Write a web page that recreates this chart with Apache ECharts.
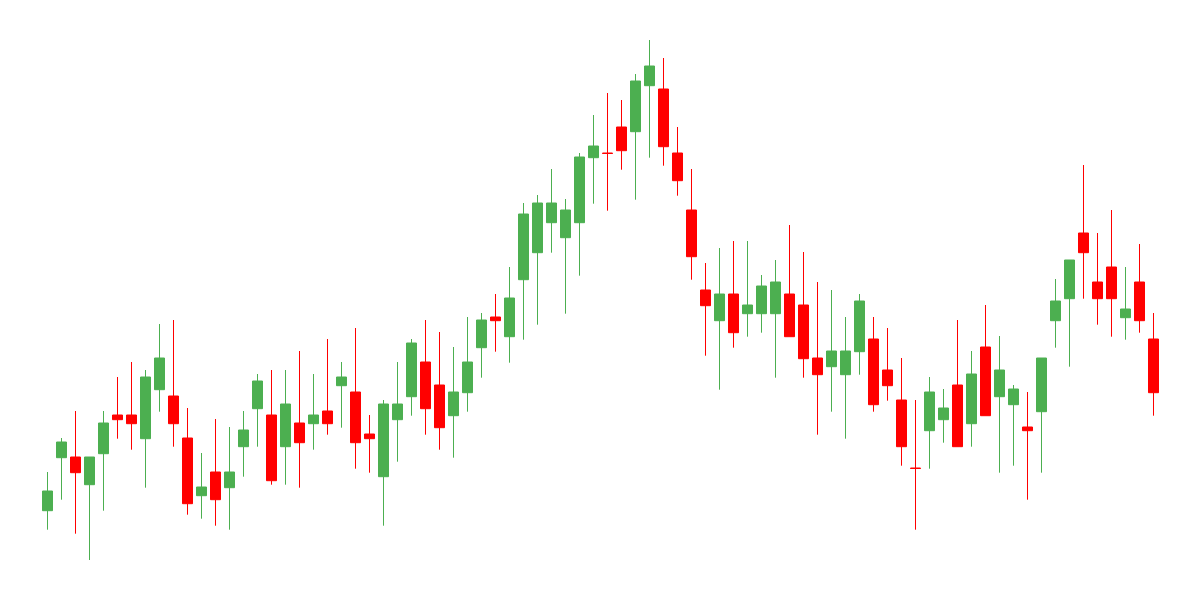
<!DOCTYPE html>
<html>
<head>
<meta charset="utf-8">
<script src="https://cdn.jsdelivr.net/npm/echarts@6/dist/echarts.min.js"></script>
<style>
html,body{margin:0;padding:0;background:#ffffff;}
#chart{width:1200px;height:600px;}
</style>
</head>
<body>
<div id="chart"></div>
<script>
const categories = ['1','2','3','4','5','6','7','8','9','10','11','12','13','14','15','16','17','18','19','20',
'21','22','23','24','25','26','27','28','29','30','31','32','33','34','35','36','37','38','39','40',
'41','42','43','44','45','46','47','48','49','50','51','52','53','54','55','56','57','58','59','60',
'61','62','63','64','65','66','67','68','69','70','71','72','73','74','75','76','77','78','79','80'];

const opens = [109.86,120.46,120.60,115.06,121.26,129.00,129.00,124.26,134.06,132.80,
124.40,112.86,117.60,114.46,122.66,130.26,129.00,122.66,127.40,127.26,
129.80,134.86,133.60,125.20,116.66,128.06,132.66,139.60,135.00,128.86,
133.46,142.46,148.60,144.66,156.06,161.46,167.46,164.46,167.46,180.46,
181.40,186.60,185.66,194.86,194.20,181.40,170.00,154.00,147.86,153.20,
149.26,149.26,149.26,153.20,151.00,140.40,138.66,137.06,141.66,144.20,
138.00,132.00,118.40,125.86,128.06,135.00,127.26,142.60,132.66,131.06,
126.60,129.66,147.86,152.26,165.40,155.60,158.60,148.46,155.60,144.20];

const closes = [113.80,123.60,117.46,120.60,127.40,128.06,127.26,136.60,140.40,127.26,
111.26,114.60,112.06,117.60,126.00,135.80,115.86,131.20,123.46,129.00,
127.26,136.60,123.46,124.26,131.20,131.20,143.40,130.26,126.46,133.60,
139.60,148.00,147.86,152.40,169.20,171.40,171.40,170.00,180.60,182.80,
181.30,181.86,195.80,198.80,182.66,175.86,160.66,150.86,153.20,145.46,
151.00,154.80,155.60,144.66,140.26,137.06,141.80,141.80,151.80,131.06,
134.86,122.66,118.30,133.60,130.40,122.66,137.20,128.86,138.00,134.20,
125.86,140.40,151.80,160.00,161.46,152.26,152.26,150.20,147.86,133.46];

const lows = [106.06,112.06,105.26,100.00,109.86,124.26,122.06,114.46,129.66,122.66,
109.06,108.26,106.86,106.06,116.66,122.66,115.06,115.06,114.46,122.06,
125.06,126.46,118.26,117.46,106.86,119.66,128.86,125.06,122.06,120.46,
129.66,136.46,141.66,139.46,144.06,147.06,161.46,149.26,156.86,171.26,
169.86,178.06,172.06,180.46,178.86,172.86,156.06,140.86,134.06,142.46,
144.66,145.46,136.46,144.66,136.46,125.06,129.66,124.26,137.06,129.66,
131.86,118.86,106.06,118.26,123.46,122.66,122.66,128.86,117.46,118.86,
112.06,117.46,142.46,138.66,152.26,147.06,144.66,144.06,145.46,128.86];

const highs = [117.60,124.40,129.80,120.60,129.80,136.60,139.60,138.00,147.20,148.00,
130.40,121.40,128.20,126.60,129.80,137.20,138.00,138.00,141.80,137.20,
144.20,139.60,146.40,129.00,132.00,139.60,144.20,148.00,145.60,142.60,
148.60,149.40,153.20,158.60,171.40,173.00,178.20,172.20,181.40,189.00,
193.40,192.00,197.20,204.00,200.40,186.60,178.20,159.40,162.40,163.80,
163.80,157.00,160.00,167.00,161.60,155.60,154.00,148.60,153.20,148.60,
146.40,140.40,132.00,136.60,134.20,148.00,141.80,151.00,144.80,135.00,
133.60,140.40,156.20,160.00,179.00,165.40,170.00,158.60,163.20,149.40];

const ohlc = opens.map((o, i) => [o, closes[i], lows[i], highs[i]]);

const chart = echarts.init(document.getElementById('chart'), null, {renderer: 'canvas'});
chart.setOption({
  animation: false,
  backgroundColor: '#ffffff',
  grid: {left: 40.5, right: 39.5, top: 40, bottom: 40},
  xAxis: {
    type: 'category',
    data: categories,
    boundaryGap: true,
    show: false
  },
  yAxis: {
    type: 'value',
    min: 100,
    max: 204,
    show: false,
    splitLine: {show: false}
  },
  series: [{
    type: 'candlestick',
    data: ohlc,
    barWidth: 10,
    clip: false,
    itemStyle: {
      color: '#4CAF50',
      color0: '#FF0000',
      borderColor: '#4CAF50',
      borderColor0: '#FF0000',
      borderWidth: 1
    }
  }]
});
</script>
</body>
</html>
